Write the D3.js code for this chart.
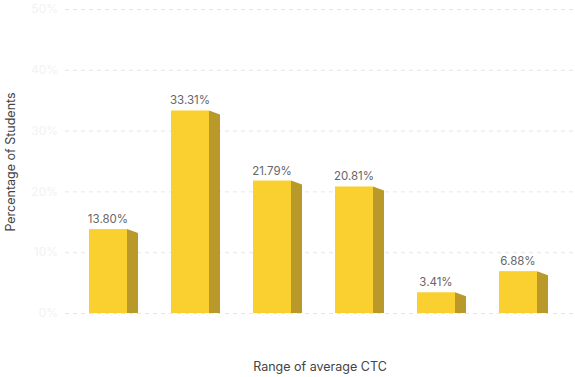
<!DOCTYPE html>
<html>
<head>
<meta charset="utf-8">
<script src="https://cdn.jsdelivr.net/npm/d3@7"></script>
<style>
  html, body { margin: 0; padding: 0; background: #fff; }
  svg { display: block; font-family: "Inter", "Noto Sans", sans-serif; }
</style>
</head>
<body>
<svg id="chart" width="575" height="377"></svg>
<script>
const categories = ["Range 1", "Range 2", "Range 3", "Range 4", "Range 5", "Range 6"];
const values = [13.80, 33.31, 21.79, 20.81, 3.41, 6.88];
const yTicks = [0, 10, 20, 30, 40, 50];
const yTitle = "Percentage of Students";
const xTitle = "Range of average CTC";

const svg = d3.select("#chart");
const x = d3.scaleBand().domain(categories).range([64.4, 561.6]).paddingInner(0.5366).paddingOuter(0.3);
const y = d3.scaleLinear().domain([0, 50]).range([313, 9]);
const depth = 11, slant = 4;

// grid
svg.append("g").selectAll("line").data(yTicks).join("line")
  .attr("x1", 65).attr("x2", 575)
  .attr("y1", d => y(d) + 0.5).attr("y2", d => y(d) + 0.5)
  .attr("stroke", "#e6e6e6").attr("stroke-width", 1)
  .attr("stroke-dasharray", "4,4");

// y tick labels
svg.append("g").selectAll("text").data(yTicks).join("text")
  .attr("x", 58).attr("y", d => y(d)).attr("dy", "0.35em")
  .attr("text-anchor", "end").attr("font-size", 12).attr("fill", "#f2f2f2")
  .text(d => d + "%");

const bars = svg.append("g").selectAll("g").data(categories).join("g");
// side face
bars.append("path")
  .attr("d", (c, i) => {
    const x1 = x(c) + x.bandwidth(), t = y(values[i]), b = y(0);
    return `M${x1},${t}L${x1 + depth},${t + slant}L${x1 + depth},${b}L${x1},${b}Z`;
  })
  .attr("fill", "#b9992a");
// front face
bars.append("rect")
  .attr("x", c => x(c)).attr("width", x.bandwidth())
  .attr("y", (c, i) => y(values[i])).attr("height", (c, i) => y(0) - y(values[i]))
  .attr("fill", "#f9d030");
// value labels
bars.append("text")
  .attr("x", c => x(c) + x.bandwidth() / 2)
  .attr("y", (c, i) => y(values[i]) - 6)
  .attr("text-anchor", "middle").attr("font-size", 11.5).attr("fill", "#666")
  .text((c, i) => values[i].toFixed(2) + "%");

// axis titles
svg.append("text")
  .attr("transform", "translate(15,162) rotate(-90)")
  .attr("text-anchor", "middle").attr("font-size", 12.5).attr("fill", "#444")
  .text(yTitle);
svg.append("text")
  .attr("x", 320).attr("y", 371)
  .attr("text-anchor", "middle").attr("font-size", 12.5).attr("fill", "#444")
  .text(xTitle);
</script>
</body>
</html>
